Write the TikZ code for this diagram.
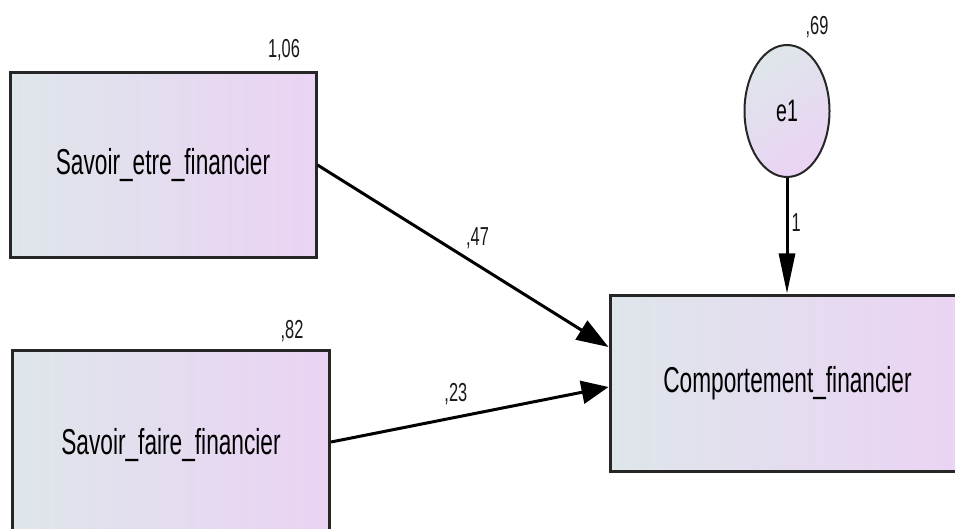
\documentclass[tikz,border=0pt]{standalone}
\usepackage{fontspec}
\setmainfont{Liberation Sans}
\usetikzlibrary{arrows.meta,shapes.geometric}
\definecolor{shadeL}{HTML}{DEE6EA}
\definecolor{shadeR}{HTML}{EBD3F4}
\newcommand{\sqz}[1]{\scalebox{0.63}[1]{#1}}
\tikzset{
  varbox/.style={draw=black!85, line width=3pt, inner sep=0pt,
    left color=shadeL, right color=shadeR,
    font=\fontsize{36}{42}\selectfont, text=black},
  errnode/.style={ellipse, draw=black!85, line width=2pt, inner sep=0pt,
    minimum width=85pt, minimum height=132pt,
    top color=shadeL, bottom color=shadeR, shading angle=35,
    font=\fontsize{31}{36}\selectfont, text=black},
  coef/.style={font=\fontsize{26}{30}\selectfont, text=black!90, inner sep=0pt},
  path/.style={draw=black, line width=3pt}
}
\begin{document}
\begin{tikzpicture}[x=1pt, y=-1pt]
  \useasboundingbox (0,0) rectangle (955,529);
  \clip (0,0) rectangle (955,529);
  \fill[white] (0,0) rectangle (955,529);

  % observed variables
  \node[varbox, minimum width=306pt, minimum height=185pt] (se) at (163,165)
    {\sqz{Savoir\_etre\_financier}};
  \node[varbox, minimum width=317pt, minimum height=190pt] (sf) at (171,445)
    {\sqz{Savoir\_faire\_financier}};
  \node[varbox, minimum width=355pt, minimum height=176pt] (cf) at (787.5,383)
    {\sqz{Comportement\_financier}};

  % error term
  \node[errnode] (e1) at (787,111) {\sqz{e1}};

  % variances
  \node[coef] (v1) at (284,50) {\sqz{1,06}};
  \node[coef] (v2) at (292,331) {\sqz{,82}};
  \node[coef] (v3) at (817,27) {\sqz{,69}};

  % regression paths
  \draw[path, -{Triangle[length=32pt,width=22pt]}]
    (se.east) -- ([yshift=36pt]cf.west) node[coef, pos=0.55, above=15pt] (c1) {\sqz{,47}};
  \draw[path, -{Triangle[length=27pt,width=23pt]}]
    ([yshift=3pt]sf.east) -- ([yshift=-4pt]cf.west) node[coef, pos=0.45, above=11pt] (c2) {\sqz{,23}};
  \draw[path, -{Triangle[length=40pt,width=16pt]}]
    (e1.south) -- (e1.south |- cf.north) node[coef, pos=0.39, right=3pt] (c3) {\sqz{1}};
\end{tikzpicture}
\end{document}
